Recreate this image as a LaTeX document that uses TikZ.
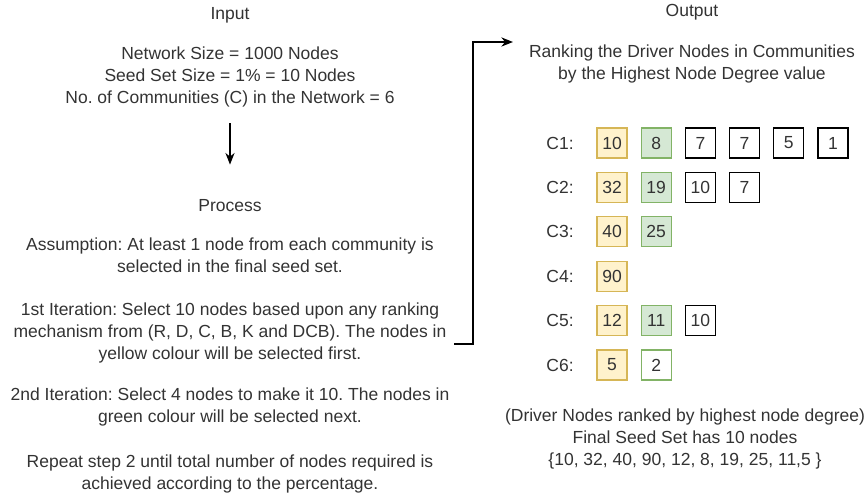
\documentclass[tikz,border=0pt]{standalone}
\usepackage{fontspec}
\setmainfont{Liberation Sans}
\frenchspacing
\usetikzlibrary{arrows.meta, positioning}
\definecolor{txtgray}{HTML}{333333}
\definecolor{yfill}{HTML}{FFF2CC}
\definecolor{ydraw}{HTML}{D6B656}
\definecolor{gfill}{HTML}{D5E8D4}
\definecolor{gdraw}{HTML}{82B366}
\tikzset{txt/.style = {align=center, text=txtgray, font=\fontsize{10.5}{13.2}\selectfont, inner sep=1pt}}
\tikzset{cell/.style = {draw, minimum size=18pt, inner sep=0pt, text=txtgray, font=\fontsize{10.5}{13.2}\selectfont, line width=0.7pt}}
\tikzset{ybox/.style = {cell, fill=yfill, draw=ydraw}, gbox/.style = {cell, fill=gfill, draw=gdraw}}
\tikzset{gwbox/.style = {cell, fill=white, draw=gdraw}, wbox/.style = {cell, draw=black}}
\tikzset{arr/.style = {-{Stealth[length=7pt, width=5.5pt]}, line width=0.8pt}}

\begin{document}
\begin{tikzpicture}[x=0.6pt, y=-0.6pt]
\useasboundingbox (0,0) rectangle (868,495);
\node [txt] (input) at (230,15) {Input};
\node [txt] (insize) at (230,77) {Network Size = 1000 Nodes\\Seed Set Size = 1\% = 10 Nodes\\No. of Communities (C) in the Network = 6};
\node [txt] (process) at (230,206) {Process};
\node [txt] (assume) at (230,255) {Assumption: At least 1 node from each community is\\selected in the final seed set.};
\node [txt] (iter1) at (230,333) {1st Iteration: Select 10 nodes based upon any ranking\\mechanism from (R, D, C, B, K and DCB). The nodes in\\yellow colour will be selected first.};
\node [txt] (iter2) at (230,407) {2nd Iteration: Select 4 nodes to make it 10. The nodes in\\green colour will be selected next.};
\node [txt] (repeat) at (230,474) {Repeat step 2 until total number of nodes required is\\achieved according to the percentage.};
\draw [arr, shorten <=8.5pt, shorten >=20pt] (insize) -- (process);

\node [txt] (output) at (692,12) {Output};
\node [txt] (rank) at (692,63.5) {Ranking the Driver Nodes in Communities\\by the Highest Node Degree value};
\foreach \r/\cells in {1/{ybox/10,gbox/8,wbox/7,wbox/7,wbox/5,wbox/1},
    2/{ybox/32,gbox/19,wbox/10,wbox/7}, 3/{ybox/40,gbox/25}, 4/{ybox/90},
    5/{ybox/12,gbox/11,wbox/10}, 6/{ybox/5,gwbox/2}}{
  \node [txt] (c\r) at (560,{143+44.4*(\r-1)}) {C\r:};
  \foreach \st/\v [count=\i] in \cells
    \node [\st] (b\r\i) at ({612+44.2*(\i-1)},{143+44.4*(\r-1)}) {\v};
}
\node [txt] (final) at (685,439) {(Driver Nodes ranked by highest node degree)\\Final Seed Set has 10 nodes\\\{10, 32, 40, 90, 12, 8, 19, 25, 11,5 \}};

\coordinate (elbow) at (473,42);
\coordinate (outtip) at (513,42);
\draw [arr] ([shift={(6,11)}]iter1.east) -| (elbow) -- (outtip);
\end{tikzpicture}
\end{document}
